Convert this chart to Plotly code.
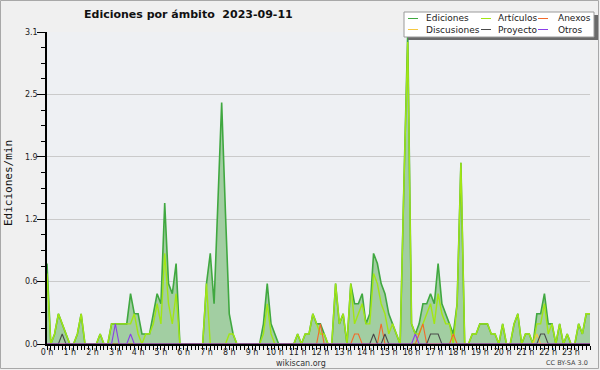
import plotly.graph_objects as go

# ---------------- data (10-minute bins, edits per minute) ----------------
hour_labels = [f"{h} h" for h in range(24)]
ytick_labels = ["0.0", "0.6", "1.2", "1.9", "2.5", "3.1"]

ediciones = [
    0.8, 0.0, 0.1, 0.3, 0.2, 0.1,   # 0h
    0.0, 0.0, 0.1, 0.3, 0.0, 0.0,   # 1h
    0.0, 0.0, 0.1, 0.0, 0.0, 0.2,   # 2h
    0.2, 0.2, 0.2, 0.2, 0.5, 0.3,   # 3h
    0.3, 0.1, 0.1, 0.1, 0.3, 0.5,   # 4h
    0.4, 1.4, 0.6, 0.5, 0.8, 0.0,   # 5h
    0.0, 0.0, 0.0, 0.0, 0.0, 0.0,   # 6h
    0.6, 0.9, 0.4, 1.4, 2.4, 1.3,   # 7h
    0.3, 0.1, 0.0, 0.0, 0.0, 0.0,   # 8h
    0.0, 0.0, 0.0, 0.2, 0.6, 0.2,   # 9h
    0.1, 0.0, 0.0, 0.0, 0.0, 0.0,   # 10h
    0.1, 0.0, 0.1, 0.1, 0.3, 0.2,   # 11h
    0.2, 0.1, 0.0, 0.0, 0.6, 0.2,   # 12h
    0.3, 0.0, 0.6, 0.4, 0.4, 0.5,   # 13h
    0.2, 0.3, 0.9, 0.8, 0.6, 0.5,   # 14h
    0.3, 0.2, 0.1, 0.0, 1.6, 3.1,   # 15h
    0.2, 0.1, 0.2, 0.4, 0.4, 0.5,   # 16h
    0.4, 0.8, 0.4, 0.3, 0.2, 0.1,   # 17h
    0.4, 1.8, 0.0, 0.0, 0.1, 0.1,   # 18h
    0.2, 0.2, 0.2, 0.1, 0.1, 0.0,   # 19h
    0.2, 0.0, 0.0, 0.2, 0.3, 0.0,   # 20h
    0.1, 0.1, 0.0, 0.3, 0.3, 0.5,   # 21h
    0.2, 0.2, 0.0, 0.2, 0.0, 0.1,   # 22h
    0.0, 0.0, 0.2, 0.1, 0.3, 0.3,   # 23h
]
articulos = [
    0.7, 0.0, 0.1, 0.3, 0.2, 0.1,
    0.0, 0.0, 0.1, 0.3, 0.0, 0.0,
    0.0, 0.0, 0.1, 0.0, 0.0, 0.2,
    0.2, 0.2, 0.2, 0.2, 0.2, 0.3,
    0.1, 0.0, 0.1, 0.1, 0.2, 0.4,
    0.2, 0.9, 0.4, 0.2, 0.5, 0.0,
    0.0, 0.0, 0.0, 0.0, 0.0, 0.0,
    0.6, 0.0, 0.0, 0.0, 0.0, 0.0,
    0.1, 0.1, 0.0, 0.0, 0.0, 0.0,
    0.0, 0.0, 0.0, 0.1, 0.4, 0.1,
    0.0, 0.0, 0.0, 0.0, 0.0, 0.0,
    0.1, 0.0, 0.1, 0.1, 0.3, 0.2,
    0.1, 0.1, 0.0, 0.0, 0.6, 0.2,
    0.3, 0.0, 0.6, 0.2, 0.3, 0.4,
    0.2, 0.2, 0.7, 0.6, 0.4, 0.3,
    0.1, 0.2, 0.1, 0.0, 1.6, 3.0,
    0.2, 0.1, 0.1, 0.2, 0.3, 0.4,
    0.2, 0.5, 0.3, 0.2, 0.2, 0.0,
    0.4, 1.8, 0.0, 0.0, 0.1, 0.1,
    0.2, 0.2, 0.2, 0.1, 0.1, 0.0,
    0.2, 0.0, 0.0, 0.2, 0.3, 0.0,
    0.1, 0.1, 0.0, 0.2, 0.2, 0.4,
    0.1, 0.2, 0.0, 0.2, 0.0, 0.1,
    0.0, 0.0, 0.2, 0.1, 0.3, 0.3,
]
anexos = [0.0] * 144
for i, v in [(72, 0.2), (81, 0.1), (82, 0.1), (88, 0.2), (98, 0.1), (99, 0.2), (107, 0.1)]:
    anexos[i] = v
discusiones = [0.0] * 144
for i, v in [(129, 0.1)]:
    discusiones[i] = v
proyecto = [0.0] * 144
for i, v in [(4, 0.1), (86, 0.1), (89, 0.1), (101, 0.1), (102, 0.1), (103, 0.1), (130, 0.1), (131, 0.1)]:
    proyecto[i] = v
otros = [0.0] * 144
for i, v in [(18, 0.2), (22, 0.1), (97, 0.1)]:
    otros[i] = v

x = [i / 6 for i in range(144)]

# ---------------- styling ----------------
C_ED = "#40a840"
C_ED_FILL = "#a2cea2"
C_ART = "#a2e614"
C_ANX = "#f26a2a"
C_DIS = "#f5c842"
C_PRO = "#4a4a4a"
C_OTR = "#8a3ee8"

PL, PR, PT, PB = 47, 590, 32, 344
W, H = 600, 370

fig = go.Figure()
fig.add_trace(go.Scatter(x=x, y=ediciones, name="Ediciones", mode="lines",
                         line=dict(color=C_ED, width=1.6), fill="tozeroy",
                         fillcolor=C_ED_FILL))
fig.add_trace(go.Scatter(x=x, y=articulos, name="Artículos", mode="lines",
                         line=dict(color=C_ART, width=1.4)))
fig.add_trace(go.Scatter(x=x, y=discusiones, name="Discusiones", mode="lines",
                         line=dict(color=C_DIS, width=1.1)))
fig.add_trace(go.Scatter(x=x, y=anexos, name="Anexos", mode="lines",
                         line=dict(color=C_ANX, width=1.1)))
fig.add_trace(go.Scatter(x=x, y=proyecto, name="Proyecto", mode="lines",
                         line=dict(color=C_PRO, width=1.1)))
fig.add_trace(go.Scatter(x=x, y=otros, name="Otros", mode="lines",
                         line=dict(color=C_OTR, width=1.1)))


def px(p):
    return (p - PL) / (PR - PL)


def py(p):
    return (PB - p) / (PB - PT)


shapes = []
annotations = []

# outer frame
shapes.append(dict(type="rect", xref="paper", yref="paper", x0=px(0.5), x1=px(W - 1.5),
                   y0=py(H - 1.5), y1=py(0.5), line=dict(color="#a8a8a8", width=1),
                   fillcolor="rgba(0,0,0,0)", layer="above"))

# legend box with shadow
LX0, LX1, LY0, LY1 = 404, 594, 12, 37
shapes.append(dict(type="rect", xref="paper", yref="paper", x0=px(LX0 + 4), x1=px(LX1 + 4),
                   y0=py(LY1 + 3), y1=py(LY0 + 3), line=dict(width=0),
                   fillcolor="#6a6a6a", layer="above"))
shapes.append(dict(type="rect", xref="paper", yref="paper", x0=px(LX0), x1=px(LX1),
                   y0=py(LY1), y1=py(LY0), line=dict(color="#9a9a9a", width=1),
                   fillcolor="#ffffff", layer="above"))
legend_items = [
    ("Ediciones", C_ED, 408, 424, 18.5),
    ("Artículos", C_ART, 481, 496, 18.5),
    ("Anexos", C_ANX, 538, 556, 18.5),
    ("Discusiones", C_DIS, 408, 424, 29.5),
    ("Proyecto", C_PRO, 481, 496, 29.5),
    ("Otros", C_OTR, 538, 556, 29.5),
]
for name, col, lx, tx, ty in legend_items:
    shapes.append(dict(type="line", xref="paper", yref="paper", x0=px(lx), x1=px(lx + 10),
                       y0=py(ty), y1=py(ty), line=dict(color=col, width=1), layer="above"))
    annotations.append(dict(text=name, xref="paper", yref="paper", x=px(tx), y=py(ty),
                            xanchor="left", yanchor="middle", showarrow=False,
                            font=dict(family="DejaVu Sans", size=9, color="#222222")))

# title and footers
annotations.append(dict(text="<b>Ediciones por ámbito  2023-09-11</b>", xref="paper", yref="paper",
                        x=px(188), y=py(15), xanchor="center", yanchor="middle", showarrow=False,
                        font=dict(family="DejaVu Sans", size=11, color="#111111")))
annotations.append(dict(text="wikiscan.org", xref="paper", yref="paper",
                        x=px(301), y=py(363), xanchor="center", yanchor="middle", showarrow=False,
                        font=dict(family="DejaVu Sans", size=8, color="#333333")))
annotations.append(dict(text="CC BY-SA 3.0", xref="paper", yref="paper",
                        x=px(590), y=py(363), xanchor="right", yanchor="middle", showarrow=False,
                        font=dict(family="DejaVu Sans", size=6.5, color="#444444")))
annotations.append(dict(text="Ediciones/min", xref="paper", yref="paper",
                        x=px(9), y=py(183), xanchor="center", yanchor="middle", showarrow=False,
                        textangle=-90,
                        font=dict(family="DejaVu Sans Mono", size=11, color="#111111")))

fig.update_layout(
    width=W, height=H,
    margin=dict(l=PL, r=W - PR, t=PT, b=H - PB),
    paper_bgcolor="#f0f0f0",
    plot_bgcolor="#eef0f3",
    showlegend=False,
    shapes=shapes,
    annotations=annotations,
    xaxis=dict(
        range=[0, 143 / 6],
        tickmode="array", tickvals=list(range(24)), ticktext=hour_labels,
        ticks="outside", ticklen=4, tickwidth=1, tickcolor="#000000",
        ticklabelstandoff=-4,
        minor=dict(dtick=1 / 6, tick0=0, ticks="outside", ticklen=4, tickcolor="#000000", showgrid=False),
        showgrid=False, zeroline=False,
        showline=True, linecolor="#000000", linewidth=1.5,
        tickfont=dict(family="DejaVu Sans", size=8, color="#222222"),
        fixedrange=True,
    ),
    yaxis=dict(
        range=[0, 3.1],
        tickmode="array", tickvals=[0, 0.62, 1.24, 1.86, 2.48, 3.1], ticktext=ytick_labels,
        ticks="outside", ticklen=8, tickcolor="#000000",
        ticklabelstandoff=-2,
        minor=dict(dtick=0.155, tick0=0, ticks="outside", ticklen=4, tickcolor="#000000", showgrid=False),
        showgrid=True, gridcolor="#cacaca", gridwidth=1,
        zeroline=False,
        showline=True, linecolor="#000000", linewidth=1.5,
        tickfont=dict(family="DejaVu Sans", size=8, color="#222222"),
        fixedrange=True,
    ),
)

fig.write_html("out.html", config={"displayModeBar": False},
               post_script="document.body.style.margin='0';document.body.style.overflow='hidden';")
